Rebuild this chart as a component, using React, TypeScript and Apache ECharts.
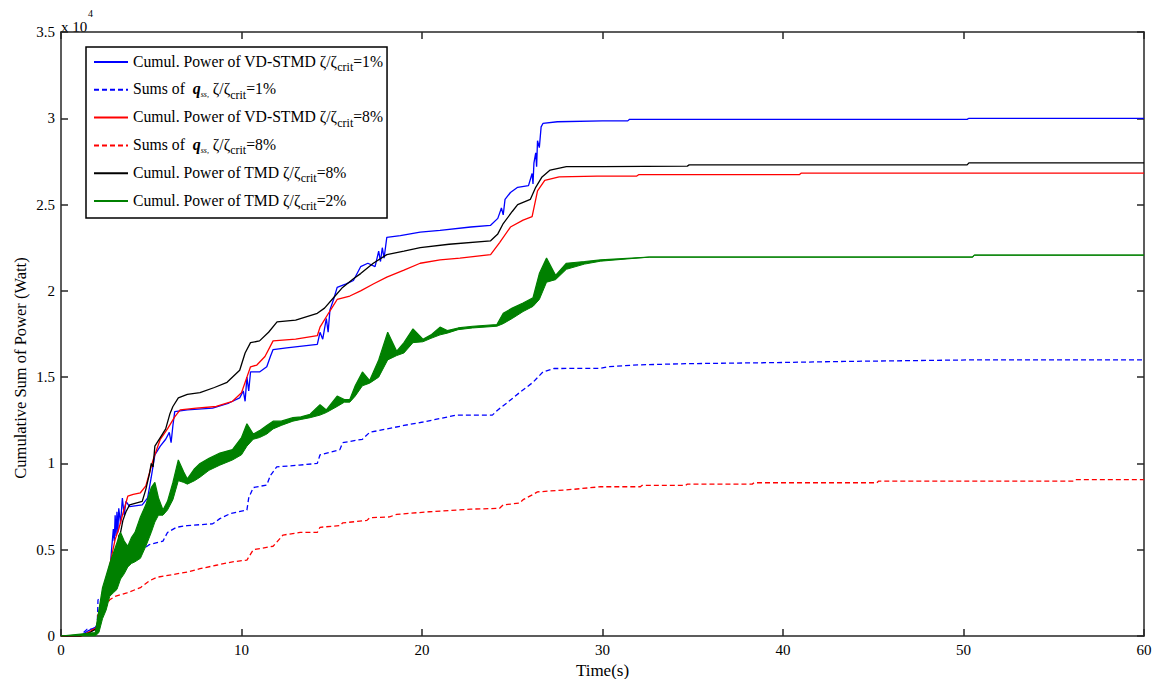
import React, { useEffect, useRef } from "react";
import * as echarts from "echarts";

const FONT = "Liberation Serif";

const xTicks = [0, 10, 20, 30, 40, 50, 60];
const yTicks = [0, 0.5, 1, 1.5, 2, 2.5, 3, 3.5];

const seriesNames = [
  "Cumul. Power of VD-STMD ζ/ζcrit=1%",
  "Sums of q_ss, ζ/ζcrit=1%",
  "Cumul. Power of VD-STMD ζ/ζcrit=8%",
  "Sums of q_ss, ζ/ζcrit=8%",
  "Cumul. Power of TMD ζ/ζcrit=8%",
  "Cumul. Power of TMD ζ/ζcrit=2%",
];

// values in units of 10^4 Watt
const blueSolid = [
  [0, 0], [1.1, 0], [1.5, 0.03], [1.9, 0.05], [2.1, 0.08], [2.3, 0.2], [2.5, 0.3], [2.7, 0.36], [2.8, 0.5], [2.9, 0.62],
  [2.95, 0.55], [3.0, 0.7], [3.05, 0.58], [3.1, 0.72], [3.15, 0.6], [3.2, 0.74], [3.3, 0.65], [3.4, 0.8], [3.5, 0.7],
  [3.6, 0.78], [3.8, 0.75], [4.5, 0.76], [4.8, 0.8], [5.0, 0.92], [5.2, 1.05], [5.5, 1.1], [5.8, 1.14], [6.0, 1.18],
  [6.1, 1.12], [6.2, 1.22], [6.3, 1.3], [7.0, 1.31], [8.4, 1.32], [9.3, 1.35], [9.9, 1.38], [10.1, 1.42], [10.2, 1.36],
  [10.3, 1.5], [10.4, 1.42], [10.5, 1.53], [11.0, 1.53], [11.4, 1.56], [11.6, 1.62], [11.75, 1.66], [12.5, 1.67],
  [14.2, 1.69], [14.35, 1.76], [14.5, 1.72], [14.7, 1.84], [14.8, 1.76], [14.9, 1.89], [15.1, 1.95], [15.3, 2.02],
  [15.8, 2.04], [16.2, 2.06], [16.6, 2.14], [17.0, 2.16], [17.4, 2.14], [17.6, 2.23], [17.7, 2.17], [17.8, 2.25],
  [17.9, 2.19], [18.05, 2.31], [18.8, 2.32], [19.9, 2.34], [21.0, 2.35], [22.7, 2.37], [23.8, 2.38], [24.2, 2.42],
  [24.4, 2.48], [24.5, 2.44], [24.6, 2.53], [24.9, 2.57], [25.3, 2.6], [25.9, 2.61], [26.1, 2.68], [26.15, 2.62],
  [26.2, 2.74], [26.3, 2.8], [26.35, 2.72], [26.4, 2.87], [26.5, 2.83], [26.6, 2.95], [26.7, 2.97], [27.5, 2.98],
  [30, 2.985], [31.4, 2.985], [31.5, 2.994], [50.2, 2.994], [50.3, 3.0], [60, 3.0],
];

const blueDashed = [
  [0, 0], [1.05, 0], [1.45, 0.04], [2.0, 0.04], [2.05, 0.21], [2.3, 0.22], [2.5, 0.3], [2.7, 0.36], [3.0, 0.38],
  [3.4, 0.4], [3.7, 0.42], [4.0, 0.46], [4.5, 0.5], [4.9, 0.53], [5.65, 0.55], [5.9, 0.6], [6.4, 0.63], [7.0, 0.64],
  [8.4, 0.65], [8.8, 0.68], [9.4, 0.71], [10.3, 0.73], [10.4, 0.8], [10.65, 0.86], [11.4, 0.875], [11.6, 0.93],
  [11.95, 0.98], [13.2, 0.99], [14.2, 1.0], [14.35, 1.05], [15.45, 1.08], [15.6, 1.12], [16.7, 1.14], [17.1, 1.18],
  [18.05, 1.2], [19.0, 1.22], [20.05, 1.24], [21.0, 1.26], [21.9, 1.28], [23.9, 1.28], [24.2, 1.31], [24.7, 1.35],
  [25.4, 1.41], [26.15, 1.47], [26.7, 1.53], [27.3, 1.55], [29.9, 1.551], [30.3, 1.56], [31.7, 1.57], [34.6, 1.578],
  [39.4, 1.584], [43.4, 1.591], [50.5, 1.6], [60, 1.6],
];

const redSolid = [
  [0, 0], [1.1, 0], [1.5, 0.02], [2.0, 0.05], [2.16, 0.17], [2.4, 0.28], [2.6, 0.36], [2.8, 0.46], [3.0, 0.56],
  [3.2, 0.62], [3.43, 0.71], [3.7, 0.81], [4.0, 0.82], [4.4, 0.83], [4.7, 0.87], [5.1, 1.02], [5.5, 1.14], [5.9, 1.2],
  [6.3, 1.27], [6.6, 1.31], [7.5, 1.32], [8.6, 1.33], [9.5, 1.36], [10.0, 1.41], [10.3, 1.5], [10.5, 1.56],
  [10.85, 1.57], [11.3, 1.62], [11.75, 1.71], [13.0, 1.72], [14.2, 1.74], [14.35, 1.79], [14.7, 1.85], [15.0, 1.9],
  [15.3, 1.95], [16.0, 1.97], [16.6, 2.0], [17.3, 2.04], [18.05, 2.08], [19.0, 2.12], [19.9, 2.16], [21.0, 2.18],
  [22.1, 2.19], [23.8, 2.21], [24.3, 2.28], [24.9, 2.37], [25.6, 2.41], [26.1, 2.43], [26.4, 2.58], [26.8, 2.64],
  [27.6, 2.66], [29.7, 2.665], [31.9, 2.665], [32.0, 2.673], [40.9, 2.673], [41.0, 2.682], [60, 2.682],
];

const redDashed = [
  [0, 0], [1.2, 0], [1.7, 0.035], [2.0, 0.04], [2.05, 0.13], [2.3, 0.13], [2.7, 0.21], [3.0, 0.23], [3.65, 0.25],
  [4.4, 0.28], [4.9, 0.32], [5.3, 0.34], [6.4, 0.36], [7.0, 0.37], [7.7, 0.39], [8.6, 0.41], [9.5, 0.43], [10.3, 0.44],
  [10.65, 0.5], [11.75, 0.52], [12.3, 0.585], [13.25, 0.6], [14.2, 0.6], [14.35, 0.63], [15.45, 0.64], [15.6, 0.655],
  [16.95, 0.67], [17.1, 0.685], [18.2, 0.69], [18.6, 0.705], [20.4, 0.72], [22.7, 0.735], [24.3, 0.74], [24.5, 0.76],
  [25.4, 0.77], [25.6, 0.79], [26.15, 0.82], [26.4, 0.835], [28.4, 0.85], [29.9, 0.865], [32.1, 0.865], [32.2, 0.873],
  [34.6, 0.873], [34.7, 0.88], [38.3, 0.88], [38.4, 0.888], [45.2, 0.888], [45.3, 0.898], [56.1, 0.898], [56.2, 0.906],
  [60, 0.906],
];

const blackSolid = [
  [0, 0], [1.1, 0], [1.6, 0.02], [2.1, 0.05], [2.3, 0.15], [2.5, 0.28], [2.6, 0.33], [2.7, 0.3], [2.8, 0.42],
  [2.9, 0.46], [3.0, 0.5], [3.1, 0.48], [3.2, 0.58], [3.3, 0.6], [3.43, 0.67], [3.6, 0.72], [3.8, 0.76], [4.5, 0.78],
  [4.7, 0.85], [4.9, 0.94], [5.0, 1.0], [5.1, 0.98], [5.2, 1.1], [5.5, 1.15], [5.8, 1.2], [6.04, 1.29], [6.2, 1.33],
  [6.5, 1.38], [7.0, 1.4], [7.7, 1.41], [8.5, 1.44], [9.2, 1.47], [9.9, 1.54], [10.2, 1.64], [10.5, 1.7], [11.0, 1.71],
  [11.5, 1.76], [11.97, 1.82], [13.0, 1.83], [14.2, 1.87], [14.6, 1.9], [15.1, 1.96], [15.6, 2.02], [16.2, 2.07],
  [16.6, 2.1], [17.3, 2.16], [18.05, 2.21], [19.0, 2.23], [19.9, 2.25], [21.5, 2.27], [23.8, 2.29], [24.2, 2.33],
  [24.5, 2.39], [25.0, 2.46], [25.3, 2.5], [26.0, 2.53], [26.3, 2.6], [26.65, 2.66], [27.1, 2.7], [28.0, 2.72],
  [30.0, 2.72], [34.7, 2.723], [34.8, 2.73], [50.2, 2.73], [50.3, 2.742], [60, 2.742],
];

// green (TMD 2%) oscillation band: lower and upper envelopes
const greenTime = [
  0, 1.9, 2.1, 2.3, 2.5, 2.7, 2.9, 3.1, 3.3, 3.5, 3.7, 3.9, 4.1, 4.4, 4.7, 5.0, 5.2, 5.4, 5.65, 5.9, 6.2, 6.5, 6.8, 7.0,
  7.4, 7.7, 8.2, 8.8, 9.5, 10.0, 10.3, 10.65, 11.0, 11.4, 11.75, 12.2, 12.85, 13.3, 13.8, 14.35, 14.7, 15.3, 15.7, 16.0,
  16.3, 16.7, 17.1, 17.6, 18.1, 18.6, 19.0, 19.5, 20.05, 20.5, 21.0, 21.4, 22.0, 22.8, 24.15, 24.5, 25.0, 25.6, 26.15,
  26.5, 26.9, 27.4, 28.0, 29.0, 29.9, 32.6, 50.5, 50.6, 60,
];
const greenLower = [
  0, 0, 0.02, 0.1, 0.15, 0.23, 0.25, 0.27, 0.33, 0.36, 0.4, 0.42, 0.43, 0.45, 0.52, 0.6, 0.66, 0.7, 0.7, 0.73, 0.79, 0.9,
  0.89, 0.88, 0.9, 0.92, 0.96, 0.99, 1.02, 1.05, 1.1, 1.14, 1.15, 1.17, 1.2, 1.22, 1.245, 1.255, 1.265, 1.28, 1.295, 1.33,
  1.355, 1.355, 1.39, 1.45, 1.465, 1.5, 1.6, 1.625, 1.64, 1.7, 1.705, 1.725, 1.745, 1.755, 1.775, 1.785, 1.795, 1.81, 1.84, 1.88,
  1.91, 1.95, 2.05, 2.065, 2.125, 2.155, 2.172, 2.196, 2.196, 2.207, 2.207,
];
const greenUpper = [
  0, 0.02, 0.15, 0.28, 0.35, 0.42, 0.48, 0.54, 0.6, 0.55, 0.52, 0.57, 0.6, 0.69, 0.76, 0.86, 0.89, 0.8, 0.73, 0.78, 0.89,
  1.02, 0.95, 0.91, 0.97, 1.0, 1.03, 1.06, 1.08, 1.15, 1.23, 1.17, 1.19, 1.22, 1.245, 1.245, 1.265, 1.27, 1.285, 1.34, 1.31,
  1.39, 1.37, 1.37, 1.45, 1.53, 1.48, 1.6, 1.76, 1.65, 1.7, 1.78, 1.72, 1.745, 1.79, 1.77, 1.785, 1.795, 1.805, 1.87, 1.9,
  1.93, 1.96, 2.1, 2.19, 2.09, 2.16, 2.17, 2.18, 2.196, 2.196, 2.207, 2.207,
];

const legendRich: Record<string, string> = {
  [seriesNames[0]]: "{a|Cumul. Power of VD-STMD ζ/ζ}{s|crit}{a|=1%}",
  [seriesNames[1]]: "{a|Sums of  }{q|q}{qs|ss,}{a| ζ/ζ}{s|crit}{a|=1%}",
  [seriesNames[2]]: "{a|Cumul. Power of VD-STMD ζ/ζ}{s|crit}{a|=8%}",
  [seriesNames[3]]: "{a|Sums of  }{q|q}{qs|ss,}{a| ζ/ζ}{s|crit}{a|=8%}",
  [seriesNames[4]]: "{a|Cumul. Power of TMD ζ/ζ}{s|crit}{a|=8%}",
  [seriesNames[5]]: "{a|Cumul. Power of TMD ζ/ζ}{s|crit}{a|=2%}",
};

const AXIS_COLOR = "#262626";
const GREEN = "#008000";

function lineSeries(name: string, data: number[][], color: string, dashed: boolean, z = 2, width = 1.3) {
  return {
    name,
    type: "line",
    data,
    showSymbol: false,
    symbol: "none",
    lineStyle: { color, width, type: dashed ? [5, 3] : "solid" },
    itemStyle: { color },
    z,
  };
}

export default function App() {
  const ref = useRef<HTMLDivElement>(null);
  useEffect(() => {
    if (!ref.current) return;
    const chart = echarts.init(ref.current, null, { renderer: "svg" });
    const greenLowLine = greenTime.map((t, i) => [t, greenLower[i]]);
    const greenHighLine = greenTime.map((t, i) => [t, greenUpper[i]]);
    const xAxisCommon = {
      type: "value",
      min: xTicks[0],
      max: xTicks[xTicks.length - 1],
      interval: 10,
      splitLine: { show: false },
      axisLine: { show: true, onZero: false, lineStyle: { color: AXIS_COLOR, width: 1.5 } },
      axisTick: { show: true, inside: true, length: 7, lineStyle: { color: AXIS_COLOR, width: 1.5 } },
    };
    const yAxisCommon = {
      type: "value",
      min: yTicks[0],
      max: yTicks[yTicks.length - 1],
      interval: 0.5,
      splitLine: { show: false },
      axisLine: { show: true, onZero: false, lineStyle: { color: AXIS_COLOR, width: 1.5 } },
      axisTick: { show: true, inside: true, length: 7, lineStyle: { color: AXIS_COLOR, width: 1.5 } },
    };
    const richBase = { fontFamily: FONT, color: "#000" };
    const option: any = {
      animation: false,
      backgroundColor: "#fff",
      textStyle: { fontFamily: FONT },
      grid: { left: 61, right: 11, top: 32, bottom: 43, containLabel: false, outerBoundsMode: "none" },
      xAxis: [
        {
          ...xAxisCommon,
          position: "bottom",
          axisLabel: { color: "#000", fontSize: 15, fontFamily: FONT, margin: 6 },
          name: "Time(s)",
          nameLocation: "middle",
          nameGap: 21,
          nameTextStyle: { color: "#000", fontSize: 17, fontFamily: FONT },
        },
        { ...xAxisCommon, position: "top", axisLabel: { show: false } },
      ],
      yAxis: [
        {
          ...yAxisCommon,
          position: "left",
          axisLabel: { color: "#000", fontSize: 15, fontFamily: FONT, margin: 6 },
        },
        { ...yAxisCommon, position: "right", axisLabel: { show: false } },
      ],
      legend: {
        data: seriesNames,
        orient: "vertical",
        left: 86,
        top: 47,
        padding: [6, 4, 6, 7],
        itemWidth: 34,
        itemHeight: 14,
        itemGap: 7.8,
        backgroundColor: "#fff",
        borderColor: "#000",
        borderWidth: 1.5,
        selectedMode: false,
        itemStyle: { opacity: 0 },
        formatter: (n: string) => legendRich[n] || n,
        textStyle: {
          fontFamily: FONT,
          fontSize: 16,
          color: "#000",
          rich: {
            a: { ...richBase, fontSize: 15.7, lineHeight: 18, verticalAlign: "top" },
            s: { ...richBase, fontSize: 12, lineHeight: 12, padding: [8, 0, 0, 0], verticalAlign: "top" },
            q: { ...richBase, fontSize: 16, lineHeight: 18, fontStyle: "italic", fontWeight: "bold", verticalAlign: "top" },
            qs: { ...richBase, fontSize: 8, lineHeight: 8, fontStyle: "italic", padding: [10, 0, 0, 0], verticalAlign: "top" },
          },
        },
      },
      graphic: [
        {
          type: "text",
          left: 61,
          top: 19,
          style: { text: "x 10", fontFamily: FONT, fontSize: 15, fill: "#000" },
        },
        {
          type: "text",
          left: 88,
          top: 8,
          style: { text: "4", fontFamily: FONT, fontSize: 10, fill: "#000" },
        },
        {
          type: "text",
          x: 20,
          y: 368,
          rotation: Math.PI / 2,
          style: {
            text: "Cumulative Sum of Power (Watt)",
            fontFamily: FONT,
            fontSize: 16.5,
            fill: "#000",
            align: "center",
            verticalAlign: "middle",
          },
        },
      ],
      series: [
        lineSeries(seriesNames[0], blueSolid, "#0000ff", false),
        lineSeries(seriesNames[1], blueDashed, "#0000ff", true),
        lineSeries(seriesNames[2], redSolid, "#ff0000", false),
        lineSeries(seriesNames[3], redDashed, "#ff0000", true),
        lineSeries(seriesNames[4], blackSolid, "#000000", false),
        {
          name: "TMD 2% band",
          type: "custom",
          data: [[0, 0]],
          silent: true,
          z: 3,
          renderItem: (_params: any, api: any) => {
            const upper = greenTime.map((t, i) => api.coord([t, greenUpper[i]]));
            const lower = greenTime.map((t, i) => api.coord([t, greenLower[i]])).reverse();
            return {
              type: "polygon",
              shape: { points: upper.concat(lower) },
              style: { fill: GREEN, stroke: "none" },
            };
          },
        },
        lineSeries("TMD 2% lower envelope", greenLowLine, GREEN, false, 4, 1),
        lineSeries(seriesNames[5], greenHighLine, GREEN, false, 4, 1.2),
      ],
    };
    chart.setOption(option);
    return () => chart.dispose();
  }, []);
  return (
    <div
      ref={ref}
      style={{ position: "absolute", left: 0, top: 0, width: 1155, height: 679, background: "#fff" }}
    />
  );
}
